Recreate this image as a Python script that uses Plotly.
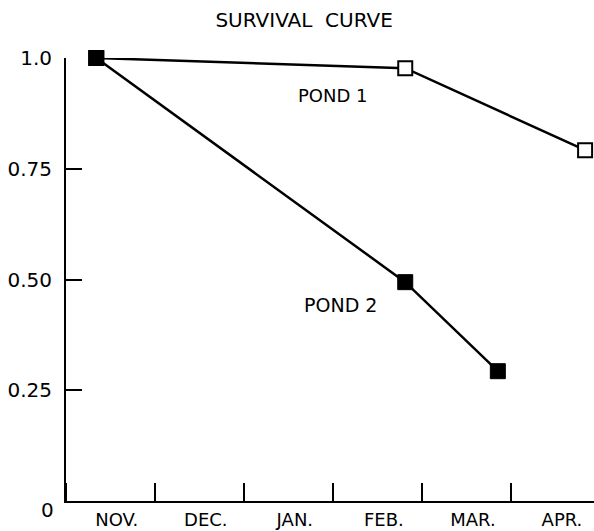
import plotly.graph_objects as go

# Data (x in months since Nov 1)
months = ["NOV.", "DEC.", "JAN.", "FEB.", "MAR.", "APR."]
pond1_x = [0.34, 3.81, 5.83]
pond1_y = [1.0, 0.977, 0.792]
pond2_x = [0.34, 3.81, 4.85]
pond2_y = [1.0, 0.494, 0.293]
y_ticks = [0.25, 0.5, 0.75, 1.0]
y_ticktext = ["0.25", "0.50", "0.75", "1.0"]

FONT = "DejaVu Sans"

fig = go.Figure()
fig.add_trace(go.Scatter(
    x=pond1_x, y=pond1_y, mode="lines+markers", name="POND 1",
    line=dict(color="black", width=2.5),
    marker=dict(symbol="square", size=14, color="white",
                line=dict(color="black", width=2)),
    cliponaxis=False, showlegend=False))
fig.add_trace(go.Scatter(
    x=pond2_x, y=pond2_y, mode="lines+markers", name="POND 2",
    line=dict(color="black", width=2.5),
    marker=dict(symbol="square", size=15, color="black",
                line=dict(color="black", width=1)),
    cliponaxis=False, showlegend=False))

fig.add_annotation(x=3.0, y=0.916, text="POND 1", showarrow=False,
                   font=dict(family=FONT, size=18, color="black"))
fig.add_annotation(x=3.08, y=0.442, text="POND 2", showarrow=False,
                   font=dict(family=FONT, size=19, color="black"))
fig.add_annotation(x=0, y=0, text="0", showarrow=False, xanchor="right",
                   xshift=-10, yshift=-9,
                   font=dict(family=FONT, size=20, color="black"))

fig.update_layout(
    width=594, height=531,
    margin=dict(l=66, r=0, t=58, b=30),
    plot_bgcolor="white", paper_bgcolor="white",
    hovermode=False,
    font=dict(family=FONT, size=20, color="black"),
    title=dict(text="SURVIVAL\u00a0 CURVE", x=0.512, xanchor="center",
               y=1 - 20 / 531, yanchor="middle",
               font=dict(family=FONT, size=20, color="black")),
    xaxis=dict(range=[0, 5.93], tickvals=[i + 0.57 for i in range(len(months))],
               ticktext=months, ticks="", showgrid=False, zeroline=False,
               showline=True, linecolor="black", linewidth=2,
               ticklabelstandoff=1, automargin=False,
               tickfont=dict(family=FONT, size=18, color="black"),
               minor=dict(ticks="inside", ticklen=18, tickwidth=2,
                          tickcolor="black", tick0=0, dtick=1, showgrid=False)),
    yaxis=dict(range=[0, 1.0], tickvals=y_ticks, ticktext=y_ticktext,
               ticks="inside", ticklen=16, tickwidth=2, tickcolor="black",
               showgrid=False, zeroline=False, showline=True,
               linecolor="black", linewidth=2, ticklabelstandoff=8,
               automargin=False,
               tickfont=dict(family=FONT, size=20, color="black")),
)

fig.write_html("out.html", config={"displayModeBar": False},
               post_script="document.body.style.margin='0';document.body.style.overflow='hidden';")
